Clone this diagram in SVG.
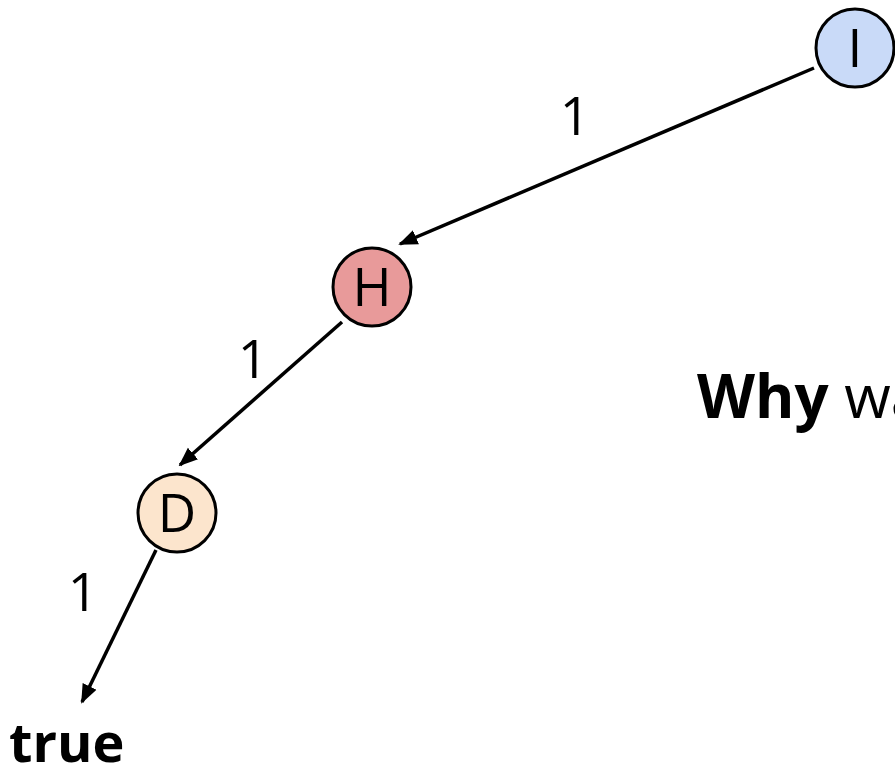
<svg xmlns="http://www.w3.org/2000/svg" width="895" height="771" viewBox="0 0 895 771">
<style>
.node circle{stroke:#000;stroke-width:3}
.lbl{font-family:"Open Sans","Noto Sans",sans-serif;font-size:53px;text-anchor:middle;fill:#000}
.edge{stroke:#000;stroke-width:3.5;fill:none;marker-end:url(#arr)}
.big{font-family:"Open Sans","Noto Sans",sans-serif;fill:#000}
</style>
<defs>
<marker id="arr" viewBox="0 0 10 10" refX="9" refY="5" markerWidth="5.5" markerHeight="5.5" orient="auto" markerUnits="strokeWidth">
<path d="M0,1 L10,5 L0,9 Z" fill="#000"/>
</marker>
</defs>
<rect width="895" height="771" fill="#fff"/>
<g id="edges">
<line class="edge" x1="814" y1="68" x2="400" y2="244"/>
<line class="edge" x1="342" y1="322" x2="180" y2="465"/>
<line class="edge" x1="156" y1="550" x2="82" y2="702"/>
<text class="lbl" x="575" y="135">1</text>
<text class="lbl" x="253" y="378">1</text>
<text class="lbl" x="83" y="611">1</text>
</g>
<g id="node-I" class="node"><circle cx="855" cy="48" r="39" fill="#c9daf8"/><text class="lbl" x="855" y="67">I</text></g>
<g id="node-H" class="node"><circle cx="372" cy="287" r="39" fill="#e89a9a"/><text class="lbl" x="372" y="306">H</text></g>
<g id="node-D" class="node"><circle cx="177" cy="513" r="39" fill="#fce5cd"/><text class="lbl" x="177" y="532">D</text></g>
<g id="text-true"><text class="big" x="9" y="762" font-size="54" font-weight="bold">true</text></g>
<g id="text-why"><text class="big" x="697" y="418" font-size="60"><tspan font-weight="bold">Why</tspan> wa</text></g>
</svg>
